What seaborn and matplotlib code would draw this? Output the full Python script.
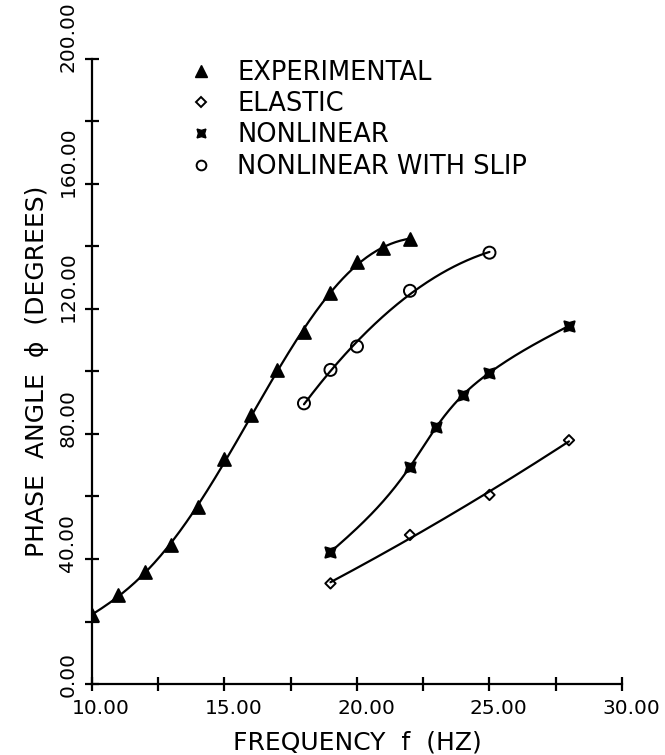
import numpy as np
import pandas as pd
import matplotlib
matplotlib.use("Agg")
import matplotlib.pyplot as plt
import seaborn as sns
from matplotlib.lines import Line2D
from matplotlib.ticker import MultipleLocator, FormatStrFormatter
import matplotlib.transforms as mtransforms

# ---- data ----
exp_f = [10, 11, 12, 13, 14, 15, 16, 17, 18, 19, 20, 21, 22]
exp_phi = [22, 28.5, 36, 44.5, 56.5, 72, 86, 100.5, 112.5, 125, 135, 139.5, 142.5]
ela_f = [19, 22, 25, 28]
ela_phi = [32.2, 47.7, 60.5, 78]
non_f = [19, 22, 23, 24, 25, 28]
non_phi = [42.2, 69.5, 82.3, 92.5, 99.6, 114.6]
slip_f = [18, 19, 20, 22, 25]
slip_phi = [89.8, 100.5, 108, 125.8, 138]
labels = ["EXPERIMENTAL", "ELASTIC", "NONLINEAR", "NONLINEAR WITH SLIP"]
xticks = [10, 15, 20, 25, 30]
yticks = [0, 40, 80, 120, 160, 200]

sns.set_style("ticks")
plt.rcParams['font.family'] = ['DejaVu Sans']
for k in ['text.color', 'axes.labelcolor', 'xtick.color', 'ytick.color']:
    plt.rcParams[k] = 'black'


def smooth_fit(x, y, deg, n=200):
    x = np.asarray(x, float); y = np.asarray(y, float)
    c = np.polyfit(x, y, deg)
    xs = np.linspace(x[0], x[-1], n)
    return xs, np.polyval(c, xs)


def natural_spline(x, y, n=200):
    x = np.asarray(x, float); y = np.asarray(y, float)
    k = len(x)
    h = np.diff(x)
    A = np.zeros((k, k)); b = np.zeros(k)
    A[0, 0] = 1; A[-1, -1] = 1
    for i in range(1, k - 1):
        A[i, i - 1] = h[i - 1]
        A[i, i] = 2 * (h[i - 1] + h[i])
        A[i, i + 1] = h[i]
        b[i] = 3 * ((y[i + 1] - y[i]) / h[i] - (y[i] - y[i - 1]) / h[i - 1])
    c = np.linalg.solve(A, b)
    xs = np.linspace(x[0], x[-1], n)
    ys = np.empty_like(xs)
    for j, xv in enumerate(xs):
        i = min(np.searchsorted(x, xv, side='right') - 1, k - 2)
        d = xv - x[i]
        bb = (y[i + 1] - y[i]) / h[i] - h[i] * (2 * c[i] + c[i + 1]) / 3
        dd = (c[i + 1] - c[i]) / (3 * h[i])
        ys[j] = y[i] + bb * d + c[i] * d ** 2 + dd * d ** 3
    return xs, ys


fig = plt.figure(figsize=(6.65, 7.55), dpi=100)
ax = fig.add_axes([0.1383, 0.094, 0.797, 0.828])

series = [
    (exp_f, exp_phi, '^', 'k', 85, 5),
    (ela_f, ela_phi, 'D', 'none', 28, 2),
    (non_f, non_phi, (4, 1, 45), 'k', 110, None),
    (slip_f, slip_phi, 'o', 'none', 75, 2),
]
for (fx, fy, mk, fc, sz, deg), lab in zip(series, labels):
    if deg is None:
        xs, ys = natural_spline(fx, fy)
    else:
        xs, ys = smooth_fit(fx, fy, deg)
    sns.lineplot(x=xs, y=ys, ax=ax, color='black', lw=1.6, sort=False)
    sns.scatterplot(x=fx, y=fy, ax=ax, marker=mk, s=sz, facecolor=fc,
                    edgecolor='black', linewidth=1.4, zorder=5)

ax.set_xlim(10, 30)
ax.set_ylim(0, 200)
ax.set_xticks(xticks)
ax.set_yticks(yticks)
ax.xaxis.set_minor_locator(MultipleLocator(2.5))
ax.yaxis.set_minor_locator(MultipleLocator(20))
ax.xaxis.set_major_formatter(FormatStrFormatter('%.2f'))
ax.yaxis.set_major_formatter(FormatStrFormatter('%.2f'))
ax.tick_params(axis='both', which='both', direction='inout', length=10, width=1.6,
               color='black')
ax.tick_params(axis='x', labelsize=14.5, pad=6)
ax.tick_params(axis='y', labelsize=14.5, pad=5.5)
yoff = mtransforms.ScaledTranslation(0, -0.13, fig.dpi_scale_trans)
for t in ax.get_yticklabels():
    t.set_rotation(90)
    t.set_va('bottom')
    t.set_transform(t.get_transform() + yoff)
xoff = mtransforms.ScaledTranslation(0.09, 0, fig.dpi_scale_trans)
for t in ax.get_xticklabels():
    t.set_transform(t.get_transform() + xoff)

for s in ['top', 'right']:
    ax.spines[s].set_visible(False)
for s in ['left', 'bottom']:
    ax.spines[s].set_linewidth(1.6)
    ax.spines[s].set_color('black')

ax.set_xlabel("FREQUENCY  f  (HZ)", fontsize=18, labelpad=9)
ax.set_ylabel("PHASE  ANGLE  ϕ  (DEGREES)", fontsize=18, labelpad=7)

handles = [
    Line2D([], [], ls='none', marker='^', ms=8, mfc='k', mec='k'),
    Line2D([], [], ls='none', marker='D', ms=5, mfc='none', mec='k', mew=1.4),
    Line2D([], [], ls='none', marker=(4, 1, 45), ms=9, mfc='k', mec='k'),
    Line2D([], [], ls='none', marker='o', ms=7, mfc='none', mec='k', mew=1.4),
]
ax.legend(handles, labels, loc='upper left', bbox_to_anchor=(0.1626, 1.0144),
          frameon=False, fontsize=18.5, handletextpad=0.9, labelspacing=0.2,
          handlelength=1.0, borderaxespad=0)

fig.savefig("out.png", dpi=100)
